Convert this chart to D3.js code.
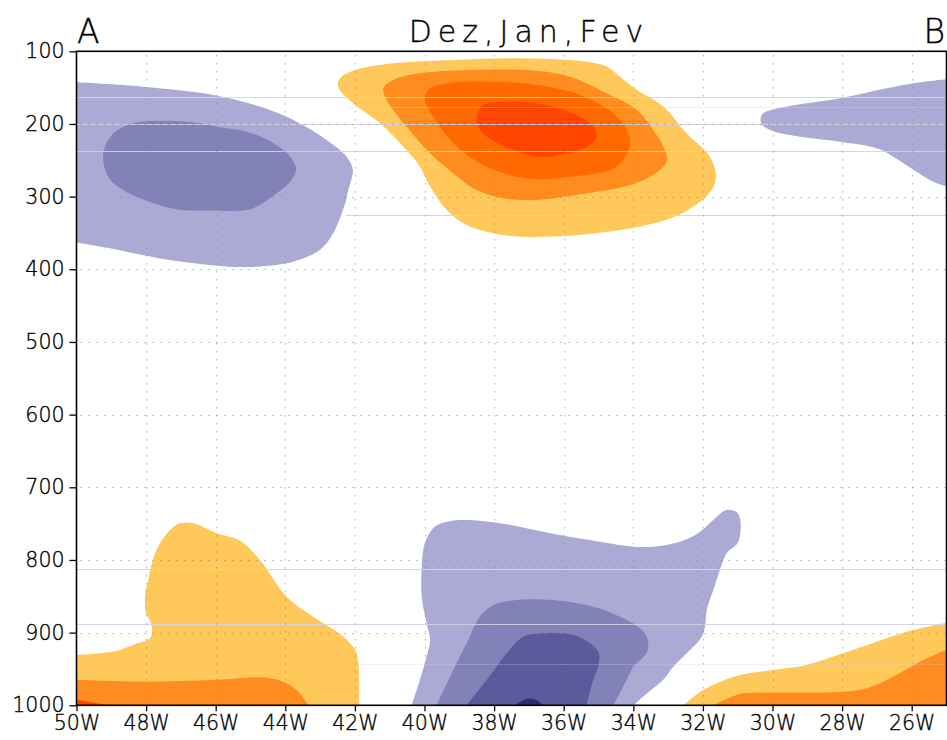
<!DOCTYPE html>
<html>
<head>
<meta charset="utf-8">
<script src="https://cdn.jsdelivr.net/npm/d3@7"></script>
<style>
  html, body { margin: 0; padding: 0; background: #ffffff; }
  svg { display: block; }
  text { font-family: "DejaVu Sans", sans-serif; font-weight: 200; fill: #000; stroke: #000; stroke-width: 0.35px; }
</style>
</head>
<body>
<svg id="chart" width="947" height="740"></svg>
<script>
// ---------------- DATA (longitude in degrees east, pressure in hPa) ----------------
const xTickValues = [-50, -48, -46, -44, -42, -40, -38, -36, -34, -32, -30, -28, -26];
const xTickLabels = ["50W", "48W", "46W", "44W", "42W", "40W", "38W", "36W", "34W", "32W", "30W", "28W", "26W"];
const yTickValues = [100, 200, 300, 400, 500, 600, 700, 800, 900, 1000];
const yTickLabels = ["100", "200", "300", "400", "500", "600", "700", "800", "900", "1000"];
const titleText = "Dez,Jan,Fev";
const leftLabel = "A";
const rightLabel = "B";

// contour levels (negative = purple, positive = orange)
const levelNames  = ["neg1", "neg2", "neg3", "neg4", "pos1", "pos2", "pos3", "pos4"];
const levelColors = ["#aaaad5", "#8282b9", "#5c5a9c", "#2e2a70", "#ffc85a", "#ff8c1e", "#ff6a00", "#ff4500"];

// upper-left negative anomaly
const negUpperLeft1 = [[-50,142.7],[-48.08,148.7],[-46.07,160],[-44.73,176],[-43.77,194.5],[-42.81,222],[-42.24,245],[-42.06,263],[-42.19,291],[-42.28,309],[-42.62,350],[-43.0,373],[-43.77,389.5],[-44.73,396],[-45.30,397],[-46.16,394],[-47.60,385],[-49.04,371],[-50,363]];
const negUpperLeft2 = [[-49.23,240.4],[-48.94,212.8],[-48.37,199],[-47.41,195.5],[-46.45,199],[-45.88,204.6],[-45.11,210.6],[-44.34,226.6],[-43.86,245],[-43.69,261],[-43.82,277],[-44.25,295.4],[-44.73,311.5],[-45.11,318.4],[-46.16,319],[-47.03,318],[-47.79,309],[-48.66,290.9],[-49.09,272.6]];
// upper-right negative anomaly
const negUpperRight1 = [[-25,138.5],[-25.95,144],[-26.72,151],[-28.06,164.7],[-29.59,176],[-30.17,183],[-30.31,187.7],[-30.33,199],[-30.17,206],[-29.78,212.8],[-29.21,217.5],[-28.06,224.4],[-27.0,233.5],[-26.53,245],[-25.95,263],[-25.38,279.4],[-25,286]];
// upper-centre positive anomaly
const posUpper1 = [[-42.48,148.7],[-42.43,137],[-42.05,126.7],[-41.09,117.5],[-39.17,112],[-37.26,109.6],[-35.34,114.3],[-34.76,121],[-34.38,135],[-33.90,153],[-33.14,176],[-32.47,212.8],[-31.80,245],[-31.62,272.6],[-31.75,291],[-32.28,314],[-32.94,330],[-34.38,346],[-36.30,355],[-37.74,352.8],[-38.79,339],[-39.36,318.4],[-39.84,286],[-40.13,258.8],[-40.61,231],[-41.28,199],[-42.05,171.6]];
const posUpper2 = [[-41.18,151],[-40.90,139.5],[-40.13,130.3],[-38.69,125.7],[-36.78,126.7],[-35.82,135],[-34.76,157.8],[-33.90,180.8],[-33.43,208.3],[-33.09,235.8],[-33.04,252],[-33.43,270],[-34.09,284],[-35.34,295.4],[-36.78,304.6],[-37.74,302.3],[-38.50,291],[-39.17,268],[-39.84,240.4],[-40.51,203.8],[-41.09,167]];
const posUpper3 = [[-39.99,162.5],[-39.84,151],[-39.36,144],[-38.21,141.8],[-36.78,146.4],[-35.53,160],[-34.57,185.3],[-34.19,208.3],[-34.09,226.6],[-34.29,249.6],[-34.67,263.3],[-35.82,272.6],[-36.78,276.1],[-37.54,270.2],[-38.41,254],[-39.17,226.6],[-39.75,190],[-39.96,171.6]];
const posUpper4 = [[-38.50,190],[-38.31,173.9],[-37.64,169.4],[-36.78,171.6],[-35.72,185.3],[-35.15,203.8],[-35.05,217.5],[-35.34,231.3],[-36.11,242.7],[-36.78,245],[-37.45,235.8],[-38.21,217.5],[-38.45,203.8]];
// lower-left positive anomaly
const posLowerLeft1 = [[-50,930.7],[-48.94,926],[-48.37,917],[-47.87,906.4],[-47.86,887],[-48.00,873.4],[-48.03,850.5],[-47.94,827.5],[-47.70,786],[-47.31,758.8],[-47.03,749.5],[-46.64,749.5],[-45.97,763.3],[-45.30,773.5],[-44.73,800],[-43.96,850.5],[-43.20,878],[-42.33,905.5],[-41.99,924],[-41.90,942],[-41.88,1000]];
const posLowerLeft2 = [[-50,965],[-48.08,967.5],[-45.68,964],[-44.73,961.5],[-44.06,967.5],[-43.63,981],[-43.34,1000]];
const posLowerLeft4 = [[-50,992],[-49.6,995.5],[-49.1,1000]];
const cornerLowerLeft = [[-50,1000]];
// lower-centre negative anomaly
const negLower1 = [[-40.37,1000],[-40.13,965],[-39.94,933],[-39.84,910],[-39.94,887],[-40.08,850.5],[-40.08,809],[-39.99,777],[-39.70,754],[-39.32,747],[-38.79,745],[-37.83,749.5],[-36.39,763.3],[-34.96,775],[-34.0,781.7],[-33.43,781.7],[-32.66,775],[-32.08,761],[-31.70,745],[-31.32,731.2],[-30.98,736.7],[-30.98,775],[-31.32,790.8],[-31.51,813.8],[-31.70,841.3],[-31.89,868.8],[-31.94,891.8],[-32.03,905.5],[-32.37,924],[-32.85,947],[-33.14,965],[-33.61,983.6],[-34.0,1000]];
const negLower2 = [[-39.65,1000],[-39.27,960.6],[-38.79,914.6],[-38.41,878],[-38.02,862],[-37.35,855],[-36.11,856],[-35.15,864.3],[-34.38,878],[-33.81,894],[-33.61,905.5],[-33.60,926.2],[-34.0,947],[-34.19,965],[-34.57,1000]];
const negLower3 = [[-38.79,1000],[-38.21,965],[-37.64,928.4],[-37.16,905.5],[-36.59,901],[-35.72,903.3],[-35.24,914.6],[-34.99,928.4],[-35.01,947],[-35.15,965],[-35.34,1000]];
const negLower4 = [[-37.40,1000],[-37.06,991.3],[-36.78,992.6],[-36.59,1000]];
// lower-right positive anomaly
const posLowerRight1 = [[-32.56,1000],[-31.99,979],[-31.03,959.6],[-29.98,951.4],[-29.02,944.5],[-27.97,928.4],[-27.01,912.4],[-25.95,896.4],[-25,886.3]];
const posLowerRight2 = [[-31.70,1000],[-30.93,984.4],[-30.36,982.6],[-27.97,981.2],[-27.29,976.5],[-26.53,960.6],[-25.76,940],[-25,924]];
const cornerLowerRight = [[-25,1000]];

// faint horizontal plotting artefacts of the original: [pressure, fromLon, toLon, opacity]
const faintLines = [[163.3,-50,-25,0.9],[200,-50,-25,0.9],[237,-50,-25,0.9],[176.7,-42.2,-25,0.35],[325,-42.25,-25,0.9],[812.9,-50,-25,0.9],[888,-50,-25,0.9],[942.7,-41.9,-25,0.3]];

// ---------------- CHART ----------------
const shapes = [
  {pts: negUpperLeft1, level: "neg1", closed: false, corners: []},
  {pts: negUpperLeft2, level: "neg2", closed: true},
  {pts: negUpperRight1, level: "neg1", closed: false, corners: []},
  {pts: posUpper1, level: "pos1", closed: true},
  {pts: posUpper2, level: "pos2", closed: true},
  {pts: posUpper3, level: "pos3", closed: true},
  {pts: posUpper4, level: "pos4", closed: true},
  {pts: posLowerLeft1, level: "pos1", closed: false, corners: cornerLowerLeft},
  {pts: posLowerLeft2, level: "pos2", closed: false, corners: cornerLowerLeft},
  {pts: posLowerLeft4, level: "pos4", closed: false, corners: cornerLowerLeft},
  {pts: negLower1, level: "neg1", closed: false, corners: []},
  {pts: negLower2, level: "neg2", closed: false, corners: []},
  {pts: negLower3, level: "neg3", closed: false, corners: []},
  {pts: negLower4, level: "neg4", closed: false, corners: []},
  {pts: posLowerRight1, level: "pos1", closed: false, corners: cornerLowerRight},
  {pts: posLowerRight2, level: "pos2", closed: false, corners: cornerLowerRight}
];

const svg = d3.select("#chart");
const x = d3.scaleLinear().domain([-50, -25]).range([76.5, 946.5]);
const y = d3.scaleLinear().domain([100, 1000]).range([51.3, 705.3]);
const color = d3.scaleOrdinal().domain(levelNames).range(levelColors);

svg.append("defs").append("clipPath").attr("id", "plotClip")
  .append("rect")
  .attr("x", x(-50)).attr("y", y(100))
  .attr("width", x(-25) - x(-50)).attr("height", y(1000) - y(100));

const plot = svg.append("g").attr("clip-path", "url(#plotClip)");

const openLine = d3.line().x(d => x(d[0])).y(d => y(d[1])).curve(d3.curveCatmullRom.alpha(0.5));
const closedLine = d3.line().x(d => x(d[0])).y(d => y(d[1])).curve(d3.curveCatmullRomClosed.alpha(0.5));

plot.selectAll("path.fill")
  .data(shapes)
  .join("path")
  .attr("class", "fill")
  .attr("fill", d => color(d.level))
  .attr("stroke", "none")
  .attr("d", d => {
    if (d.closed) return closedLine(d.pts);
    return openLine(d.pts) + d.corners.map(c => "L" + x(c[0]) + "," + y(c[1])).join("") + "Z";
  });

// faint artefact lines
plot.selectAll("line.faint")
  .data(faintLines)
  .join("line")
  .attr("class", "faint")
  .attr("x1", d => x(d[1])).attr("x2", d => x(d[2]))
  .attr("y1", d => Math.round(y(d[0])) + 0.5).attr("y2", d => Math.round(y(d[0])) + 0.5)
  .attr("stroke", "#d2d2e8").attr("stroke-width", 1)
  .attr("opacity", d => d[3]);

// dotted grid
plot.selectAll("line.vgrid")
  .data(xTickValues.slice(1))
  .join("line")
  .attr("class", "vgrid")
  .attr("x1", d => Math.round(x(d)) + 0.5).attr("x2", d => Math.round(x(d)) + 0.5)
  .attr("y1", y(100) + 4).attr("y2", y(1000))
  .attr("stroke", "#8a8a8a").attr("stroke-width", 1)
  .attr("stroke-dasharray", "1,7");

plot.selectAll("line.hgrid")
  .data(yTickValues.slice(1, -1))
  .join("line")
  .attr("class", "hgrid")
  .attr("y1", d => Math.round(y(d)) + 0.5).attr("y2", d => Math.round(y(d)) + 0.5)
  .attr("x1", x(-50) + 4).attr("x2", x(-25))
  .attr("stroke", "#8a8a8a").attr("stroke-width", 1)
  .attr("stroke-dasharray", "1,7");

// axes
const xAxis = d3.axisBottom(x).tickValues(xTickValues)
  .tickFormat((d, i) => xTickLabels[i]).tickSize(6).tickSizeOuter(0).tickPadding(4);
const yAxis = d3.axisLeft(y).tickValues(yTickValues)
  .tickFormat((d, i) => yTickLabels[i]).tickSize(7).tickSizeOuter(0).tickPadding(5);

const gx = svg.append("g").attr("transform", `translate(0,${y(1000)})`).call(xAxis);
const gy = svg.append("g").attr("transform", `translate(${x(-50)},0)`).call(yAxis);
[gx, gy].forEach(g => {
  g.select(".domain").remove();
  g.selectAll(".tick line").attr("stroke", "#000").attr("stroke-width", 1.3);
  g.selectAll(".tick text")
    .attr("fill", "#000")
    .style("font-family", "'DejaVu Sans', sans-serif")
    .style("font-weight", "200")
    .style("font-size", "20.5px");
});
gx.selectAll(".tick text").attr("dy", "0.72em");

// frame
svg.append("rect")
  .attr("x", x(-50)).attr("y", y(100))
  .attr("width", x(-25) - x(-50)).attr("height", y(1000) - y(100))
  .attr("fill", "none").attr("stroke", "#000").attr("stroke-width", 1.6);

// titles
svg.append("text").attr("x", 529).attr("y", 42)
  .attr("text-anchor", "middle")
  .style("font-size", "30px").style("letter-spacing", "6px")
  .text(titleText);
svg.append("text").attr("x", 77).attr("y", 43)
  .attr("text-anchor", "start")
  .style("font-size", "33px")
  .text(leftLabel);
svg.append("text").attr("x", 945).attr("y", 43)
  .attr("text-anchor", "end")
  .style("font-size", "33px")
  .text(rightLabel);
</script>
</body>
</html>
